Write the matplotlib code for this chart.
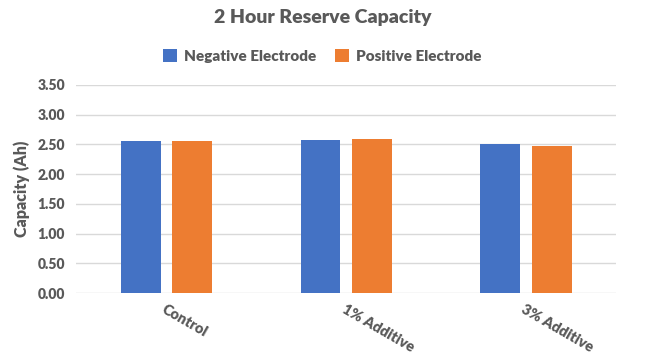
import matplotlib.pyplot as plt
import numpy as np

plt.rcParams['font.family'] = ['Lato', 'DejaVu Sans']

categories = ['Control', '1% Additive', '3% Additive']
negative = [2.56, 2.57, 2.50]
positive = [2.56, 2.59, 2.48]
yticks = [0.0, 0.5, 1.0, 1.5, 2.0, 2.5, 3.0, 3.5]

grey = '#595959'
fig = plt.figure(figsize=(6.45, 3.6), dpi=100)
ax = fig.add_axes([0.118, 0.186, 0.837, 0.578])

x = np.arange(len(categories))
w = 0.222
ax.bar(x - 0.142, negative, w, color='#4472C4', label='Negative Electrode', zorder=3)
ax.bar(x + 0.142, positive, w, color='#ED7D31', label='Positive Electrode', zorder=3)

ax.set_xlim(-0.5, 2.5)
ax.set_ylim(0, 3.5)
ax.set_yticks(yticks)
ax.set_yticklabels([f'{v:.2f}' for v in yticks], fontsize=10, fontweight='heavy', color=grey)
ax.set_xticks(x)
ax.set_xticklabels(categories, rotation=-30, ha='left', rotation_mode='anchor',
                   fontsize=10.5, fontweight='heavy', color=grey)
ax.tick_params(length=0, pad=8)
ax.tick_params(axis='x', pad=7)
ax.yaxis.grid(True, color='#D9D9D9', linewidth=1, zorder=0)
for s in ax.spines.values():
    s.set_visible(False)
ax.set_ylabel('Capacity (Ah)', fontsize=11.5, fontweight='heavy', color=grey, labelpad=5)

fig.text(0.5, 0.95, '2 Hour Reserve Capacity', ha='center', va='center',
         fontsize=14, fontweight='heavy', color=grey)
fig.legend(loc='center', bbox_to_anchor=(0.5, 0.845), ncol=2, frameon=False,
           prop={'size': 11, 'weight': 'heavy'}, labelcolor=grey,
           handlelength=0.9, handleheight=0.9, columnspacing=1.2, handletextpad=0.5)

fig.savefig('out.png', dpi=100, facecolor='white')
